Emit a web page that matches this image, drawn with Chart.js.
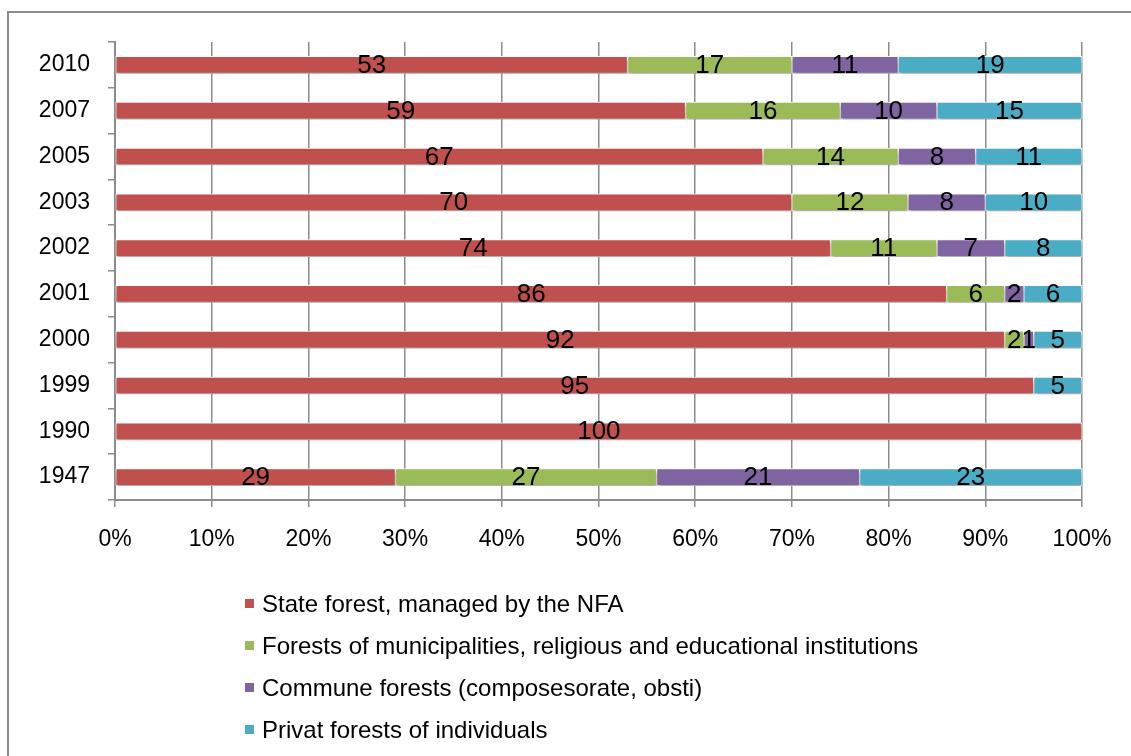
<!DOCTYPE html>
<html>
<head>
<meta charset="utf-8">
<script src="https://cdn.jsdelivr.net/npm/chart.js@4/dist/chart.umd.min.js"></script>
<style>
  html, body { margin:0; padding:0; background:#fff; overflow:hidden; }
  #frame { position:absolute; left:7px; top:11px; width:1140px; height:760px;
           border-left:2px solid #8c8c8c; border-top:2px solid #8c8c8c; }
  #wrap { position:absolute; left:0; top:0; width:1131px; height:756px; }
  .leg { position:absolute; left:245px; font:24px 'Liberation Sans', Arial, sans-serif; color:#000; }
  .leg i { position:absolute; left:0; top:9px; width:9px; height:9px; }
  .leg span { position:absolute; left:17px; top:0; white-space:nowrap; line-height:28px; }
</style>
</head>
<body>
<div id="frame"></div>
<div id="wrap"><canvas id="c" width="1131" height="756"></canvas></div>
<div id="legend"></div>
<script>
'use strict';

// ── data ──
var years    = ['2010','2007','2005','2003','2002','2001','2000','1999','1990','1947'];
var stateNFA = [53, 59, 67, 70, 74, 86, 92, 95, 100, 29];
var munic    = [17, 16, 14, 12, 11,  6,  2,  0,   0, 27];
var commune  = [11, 10,  8,  8,  7,  2,  1,  0,   0, 21];
var privat   = [19, 15, 11, 10,  8,  6,  5,  5,   0, 23];
var xTicks   = ['0%','10%','20%','30%','40%','50%','60%','70%','80%','90%','100%'];

var seriesNames  = ['State forest, managed by the NFA',
                    'Forests of municipalities, religious and educational institutions',
                    'Commune forests (composesorate, obsti)',
                    'Privat forests of individuals'];
var seriesColors = ['#C0504D','#9BBB59','#8064A2','#4BACC6'];

var FONT = "'Liberation Sans', Arial, sans-serif";
var axisGray = '#8c8c8c';

// ── legend (html, vertical list) ──
var legHtml = '';
seriesNames.forEach(function(n, i){
  legHtml += '<div class="leg" style="top:'+(590 + i*42)+'px"><i style="background:'+seriesColors[i]+'"></i><span>'+n+'</span></div>';
});
document.getElementById('legend').innerHTML = legHtml;

// ── shadow under bars + value labels ──
var barDecor = {
  id: 'barDecor',
  beforeDatasetsDraw: function(chart){
    var ctx = chart.ctx;
    ctx.save();
    ctx.shadowColor = 'rgba(0,0,0,0.35)';
    ctx.shadowBlur = 4;
    ctx.shadowOffsetX = 1;
    ctx.shadowOffsetY = 3;
  },
  afterDatasetsDraw: function(chart){
    var ctx = chart.ctx;
    ctx.restore();
    ctx.save();
    ctx.font = '26px ' + FONT;
    ctx.fillStyle = '#000';
    ctx.textAlign = 'center';
    ctx.textBaseline = 'middle';
    chart.data.datasets.forEach(function(ds, di){
      var meta = chart.getDatasetMeta(di);
      meta.data.forEach(function(el, i){
        var v = ds.data[i];
        if(!v) return;
        ctx.fillText(String(v), (el.x + el.base)/2, el.y + 1);
      });
    });
    ctx.restore();
  }
};

var datasets = [stateNFA, munic, commune, privat].map(function(arr, i){
  return {
    label: seriesNames[i],
    data: arr,
    backgroundColor: seriesColors[i],
    borderColor: '#ffffff',
    borderWidth: 1,
    borderSkipped: false,
    barThickness: 17
  };
});

new Chart(document.getElementById('c'), {
  type: 'bar',
  data: { labels: years, datasets: datasets },
  plugins: [barDecor],
  options: {
    indexAxis: 'y',
    responsive: false,
    animation: false,
    layout: { padding: { left: 0, top: 42, right: 49, bottom: 200 } },
    plugins: { legend: { display: false }, tooltip: { enabled: false } },
    scales: {
      x: {
        stacked: true,
        min: 0, max: 100,
        ticks: {
          stepSize: 10,
          padding: 19,
          color: '#000',
          font: { size: 23, family: FONT },
          callback: function(v, i){ return xTicks[i]; }
        },
        grid: { color: axisGray, lineWidth: 1.5, tickLength: 7, drawTicks: true },
        border: { display: true, color: axisGray, width: 2 },
        afterFit: function(s){ s.height = 56; }
      },
      y: {
        stacked: true,
        ticks: { padding: 18, color: '#000', font: { size: 23, family: FONT } },
        grid: { offset: true, drawOnChartArea: false, drawTicks: true, tickLength: 7, color: axisGray, lineWidth: 1.5 },
        border: { display: true, color: axisGray, width: 2 },
        afterFit: function(s){ s.width = 115; }
      }
    }
  }
});
</script>
</body>
</html>
